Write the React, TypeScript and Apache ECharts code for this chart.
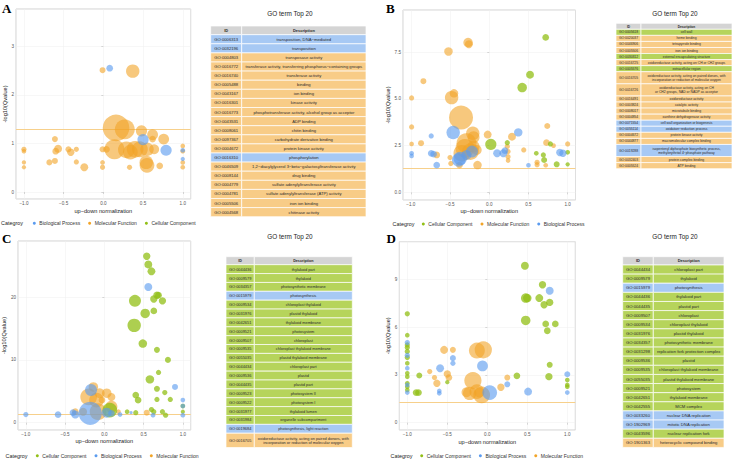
import { useEffect, useRef } from "react";
import * as echarts from "echarts";

// [up-down normalization, -log10(Qvalue), gene count]
type Pt = [number, number, number];

const BP = "Biological Process";
const MF = "Molecular Function";
const CC = "Cellular Component";
const Q_CUTOFF = -Math.log10(0.05);

// ---------- Panel A ----------
const aBiological: Pt[] = [
  [0.08, 2.55, 5], [0.5, 1.08, 14], [0.79, 0.86, 14], [1.0, 0.86, 2.4], [1.0, 0.68, 2],
];
const aMolecular: Pt[] = [
  [-0.01, 2.51, 4], [0.37, 2.49, 20], [0.16, 1.32, 79], [0.27, 1.29, 44], [0.48, 1.26, 14],
  [0.62, 1.18, 13], [0.62, 1.09, 5], [0.76, 1.09, 13], [-0.61, 1.09, 4], [-1.0, 0.88, 3],
  [-1.0, 0.84, 2.4], [-0.6, 0.84, 5], [-0.57, 0.89, 7], [-0.44, 0.88, 4], [-0.41, 0.82, 6],
  [-0.34, 0.88, 3], [-1.0, 0.61, 2], [-1.0, 0.51, 2], [-0.68, 0.61, 4], [-0.61, 0.64, 4],
  [-0.34, 0.62, 3], [-0.24, 0.51, 7], [-0.01, 0.61, 2.4], [-0.01, 0.51, 3], [-0.01, 0.88, 4],
  [0.04, 0.88, 5], [0.14, 0.88, 44], [0.29, 0.87, 31], [0.4, 0.88, 31], [0.46, 0.88, 28],
  [0.55, 0.88, 20], [0.64, 0.88, 11], [0.34, 0.82, 24], [0.54, 0.61, 20], [0.55, 0.55, 24],
  [0.33, 0.51, 3], [0.71, 0.54, 5], [1.0, 0.95, 2.4], [1.0, 0.84, 2.4], [1.0, 0.61, 2.4],
  [1.0, 0.51, 2.4],
];
const aCellular: Pt[] = [];

// ---------- Panel B ----------
const bCellular: Pt[] = [
  [0.72, 8.29, 5], [0.52, 6.3, 7], [0.42, 5.61, 10], [0.02, 2.57, 14], [0.23, 2.66, 3],
  [0.78, 2.59, 3], [0.6, 2.09, 2.4], [0.69, 2.0, 3], [0.7, 1.73, 4], [0.86, 1.5, 4],
  [1.0, 2.14, 2.4], [1.0, 1.5, 2],
];
const bMolecular: Pt[] = [
  [-0.27, 8.02, 10], [-0.26, 7.93, 7], [-0.52, 7.54, 8], [-0.84, 5.95, 4], [-0.45, 5.3, 8],
  [-0.48, 5.07, 20], [-0.99, 5.05, 3], [-0.36, 4.0, 64], [-0.99, 3.5, 3], [0.74, 3.55, 4],
  [-0.21, 3.16, 20], [-0.2, 2.95, 16], [-0.02, 3.09, 7], [0.29, 2.98, 7], [-0.87, 2.63, 4],
  [-0.99, 2.59, 2.4], [-0.29, 2.63, 44], [-0.31, 2.36, 39], [-0.35, 2.09, 31], [-0.24, 2.18, 31],
  [-0.2, 2.45, 16], [-0.16, 2.27, 11], [0.23, 2.45, 3], [0.24, 2.18, 3], [0.24, 1.91, 3],
  [0.24, 1.7, 2.4], [0.44, 2.27, 3], [0.73, 2.66, 5], [0.82, 2.5, 2.4], [1.0, 2.59, 3],
  [-0.67, 2.0, 5], [-0.5, 1.86, 3], [-0.49, 1.55, 3], [-0.38, 1.46, 5], [-0.15, 1.46, 8],
  [0.61, 1.61, 3], [0.61, 1.48, 3], [0.72, 1.45, 2.4],
];
const bBiological: Pt[] = [
  [-0.46, 3.2, 20], [-0.74, 3.02, 3], [0.37, 3.21, 8], [-0.99, 2.09, 2.4], [-0.99, 1.95, 2.4],
  [-0.74, 2.09, 5], [-0.71, 2.05, 5], [-0.67, 1.46, 5], [-0.39, 1.73, 20], [-0.37, 1.82, 20],
  [-0.29, 2.0, 11], [-0.22, 2.18, 16], [0.1, 2.09, 7], [0.18, 2.09, 7], [0.2, 2.23, 5],
  [0.5, 1.45, 2.4], [0.9, 2.13, 6], [0.94, 2.09, 6],
];

// ---------- Panel C ----------
const cCellular: Pt[] = [
  [0.54, 26.5, 6], [0.56, 25.2, 7], [0.6, 24.1, 7], [0.67, 20.3, 6], [0.69, 20.3, 5],
  [0.63, 19.7, 6], [0.74, 19.4, 6], [0.39, 19.4, 16], [0.52, 17.4, 10], [0.63, 17.8, 5],
  [0.38, 15.5, 20], [0.49, 12.6, 8], [0.67, 11.6, 4], [0.81, 10.0, 4], [0.69, 8.0, 3],
  [0.58, 6.9, 8], [0.67, 5.4, 4], [0.77, 4.8, 3], [0.4, 4.4, 5], [0.43, 3.6, 5],
  [0.67, 3.7, 3], [0.84, 3.7, 3], [1.0, 2.65, 2.4], [1.0, 1.75, 2], [0.6, 2.1, 3],
  [0.63, 1.75, 3], [0.74, 1.75, 3], [0.78, 1.2, 3], [0.29, 1.75, 2.4], [0.4, 1.6, 3],
  [0.07, 2.0, 24],
];
const cBiological: Pt[] = [
  [0.56, 21.6, 7], [0.9, 5.7, 4], [1.0, 3.6, 2.4], [1.0, 2.65, 2.4], [1.0, 1.2, 2.4],
  [0.34, 1.6, 1.2], [0.62, 1.2, 2.4], [-0.17, 5.2, 16], [-0.18, 1.5, 60], [0.03, 1.6, 11],
  [0.09, 1.5, 5], [-0.37, 1.3, 7], [-0.4, 1.6, 5], [-0.59, 1.3, 5], [-1.0, 1.3, 3],
  [0.2, 1.3, 2.4],
];
const cMolecular: Pt[] = [
  [0.54, 1.6, 4], [0.09, 2.55, 16], [0.09, 4.1, 7], [0.03, 4.7, 10], [-0.03, 3.6, 5],
  [-0.14, 5.7, 10], [-0.2, 4.1, 31], [-0.1, 3.6, 24], [-0.06, 4.7, 11], [-0.08, 1.75, 31],
  [-0.27, 1.75, 7], [-0.37, 1.75, 5], [0.18, 1.75, 2.4],
];

// ---------- Panel D ----------
const dCellular: Pt[] = [
  [0.47, 9.85, 7], [0.69, 8.66, 6], [0.48, 7.82, 10], [0.5, 7.82, 8], [0.65, 7.82, 7],
  [0.71, 7.4, 6], [0.78, 7.55, 6], [0.48, 6.42, 10], [0.73, 6.2, 5], [0.85, 6.2, 5],
  [0.75, 5.77, 5], [0.78, 3.63, 4], [0.77, 2.89, 6], [1.0, 2.68, 2.4], [1.0, 2.37, 2.4],
  [1.0, 2.26, 2.4], [0.37, 2.94, 5], [-0.85, 2.96, 4], [-0.5, 2.54, 2], [-0.89, 1.89, 5],
  [-0.86, 1.89, 5], [-1.0, 6.83, 3], [-1.0, 5.49, 2.4], [-1.0, 4.88, 3], [-1.0, 4.72, 3],
  [-1.0, 4.47, 3], [-1.0, 4.09, 3], [-1.0, 3.73, 2.4], [-1.0, 3.1, 2.4], [-1.0, 2.89, 2.4],
  [-1.0, 2.47, 2.4], [-1.0, 2.26, 2.4], [-1.0, 2.05, 2.4],
];
const dBiological: Pt[] = [
  [0.78, 8.28, 7], [1.0, 3.04, 4], [1.0, 1.89, 2.4], [0.25, 2.41, 4], [0.51, 1.95, 7],
  [-0.43, 4.05, 4], [-0.43, 3.73, 3], [-0.06, 3.56, 13], [-0.59, 3.42, 7], [0.03, 1.89, 24],
  [-0.6, 1.99, 2.4], [-0.6, 1.84, 2.4], [-1.0, 5.03, 3], [-1.0, 4.23, 3], [-1.0, 3.42, 2.4],
  [-1.0, 2.37, 2.4], [-1.0, 1.89, 2.4],
];
const dMolecular: Pt[] = [
  [0.25, 2.83, 4], [0.17, 2.22, 6], [-0.05, 4.57, 33], [-0.13, 4.53, 28], [-0.54, 4.57, 7],
  [-0.43, 4.57, 4], [-0.72, 3.21, 3], [-0.5, 3.06, 6], [-0.48, 2.83, 5], [-0.66, 2.83, 3],
  [-0.63, 2.47, 6], [-0.18, 2.64, 33], [-0.22, 1.84, 20], [-0.13, 1.95, 24], [-0.07, 1.74, 31],
  [-0.26, 1.91, 11], [-0.1, 1.89, 11],
];

// ---------- GO term tables ----------
const tableAIds = [
  "GO:0006313", "GO:0032196", "GO:0004803", "GO:0016772", "GO:0016740", "GO:0005488", "GO:0043167",
  "GO:0016301", "GO:0016773", "GO:0043531", "GO:0008061", "GO:0097367", "GO:0004672", "GO:0016310",
  "GO:0046509", "GO:0008144", "GO:0004779", "GO:0004781", "GO:0005506", "GO:0004568",
];
const tableADesc = [
  "transposition, DNA−mediated", "transposition", "transposase activity",
  "transferase activity, transferring phosphorus−containing groups", "transferase activity", "binding",
  "ion binding", "kinase activity", "phosphotransferase activity, alcohol group as acceptor", "ADP binding",
  "chitin binding", "carbohydrate derivative binding", "protein kinase activity", "phosphorylation",
  "1,2−diacylglycerol 3−beta−galactosyltransferase activity", "drug binding",
  "sulfate adenylyltransferase activity", "sulfate adenylyltransferase (ATP) activity", "iron ion binding",
  "chitinase activity",
];
const tableACat = [BP, BP, MF, MF, MF, MF, MF, MF, MF, MF, MF, MF, MF, BP, MF, MF, MF, MF, MF, MF];

const tableBIds = [
  "GO:0005618", "GO:0020037", "GO:0046906", "GO:0005506", "GO:0030312", "GO:0016725", "GO:0005576",
  "GO:0016705", "GO:0016726", "GO:0016491", "GO:0003824", "GO:0008017", "GO:0004854", "GO:0071554",
  "GO:0055114", "GO:0004672", "GO:0044877", "GO:0019288", "GO:0032403", "GO:0005524",
];
const tableBDesc = [
  "cell wall", "heme binding", "tetrapyrrole binding", "iron ion binding", "external encapsulating structure",
  "oxidoreductase activity, acting on CH or CH2 groups", "extracellular region",
  "oxidoreductase activity, acting on paired donors, with\nincorporation or reduction of molecular oxygen",
  "oxidoreductase activity, acting on CH\nor CH2 groups, NAD or NADP as acceptor",
  "oxidoreductase activity", "catalytic activity", "microtubule binding", "xanthine dehydrogenase activity",
  "cell wall organization or biogenesis", "oxidation−reduction process", "protein kinase activity",
  "macromolecular complex binding",
  "isopentenyl diphosphate biosynthetic process,\nmethylerythritol 4−phosphate pathway",
  "protein complex binding", "ATP binding",
];
const tableBCat = [CC, MF, MF, MF, CC, MF, CC, MF, MF, MF, MF, MF, MF, BP, BP, MF, MF, BP, MF, MF];

const tableCIds = [
  "GO:0044436", "GO:0009579", "GO:0034357", "GO:0015979", "GO:0009534", "GO:0031976", "GO:0042651",
  "GO:0009521", "GO:0009507", "GO:0009535", "GO:0055035", "GO:0044434", "GO:0009536", "GO:0044435",
  "GO:0009523", "GO:0009522", "GO:0031977", "GO:0031984", "GO:0019684", "GO:0016705",
];
const tableCDesc = [
  "thylakoid part", "thylakoid", "photosynthetic membrane", "photosynthesis", "chloroplast thylakoid",
  "plastid thylakoid", "thylakoid membrane", "photosystem", "chloroplast", "chloroplast thylakoid membrane",
  "plastid thylakoid membrane", "chloroplast part", "plastid", "plastid part", "photosystem II",
  "photosystem I", "thylakoid lumen", "organelle subcompartment", "photosynthesis, light reaction",
  "oxidoreductase activity, acting on paired donors, with\nincorporation or reduction of molecular oxygen",
];
const tableCCat = [CC, CC, CC, BP, CC, CC, CC, CC, CC, CC, CC, CC, CC, CC, CC, CC, CC, CC, BP, MF];

const tableDIds = [
  "GO:0044434", "GO:0009579", "GO:0015979", "GO:0044436", "GO:0044435", "GO:0009507", "GO:0009534",
  "GO:0031976", "GO:0034357", "GO:0031298", "GO:0009536", "GO:0009535", "GO:0055035", "GO:0009521",
  "GO:0042651", "GO:0042555", "GO:0033260", "GO:1902969", "GO:0043596", "GO:1901363",
];
const tableDDesc = [
  "chloroplast part", "thylakoid", "photosynthesis", "thylakoid part", "plastid part", "chloroplast",
  "chloroplast thylakoid", "plastid thylakoid", "photosynthetic membrane", "replication fork protection complex",
  "plastid", "chloroplast thylakoid membrane", "plastid thylakoid membrane", "photosystem",
  "thylakoid membrane", "MCM complex", "nuclear DNA replication", "mitotic DNA replication",
  "nuclear replication fork", "heterocyclic compound binding",
];
const tableDCat = [CC, CC, BP, CC, CC, CC, CC, CC, CC, CC, CC, CC, CC, CC, CC, CC, BP, BP, CC, MF];

// ---------- styling ----------
const SANS = "'Liberation Sans', Arial, Helvetica, sans-serif";
const SERIF = "'Liberation Serif', 'Times New Roman', serif";

const pointColor: Record<string, string> = { [BP]: "#5a9bef", [MF]: "#f2a427", [CC]: "#92bf16" };
const pointOpacity: Record<string, number> = { [BP]: 0.62, [MF]: 0.6, [CC]: 0.75 };
const cellColor: Record<string, string> = { [BP]: "#a7c9f4", [MF]: "#f8cc87", [CC]: "#b6d45b" };

type TableLayout = {
  x: number; y: number; width: number; idW: number; headH: number; rowH: number;
  extraLineH: number; fontSize: number; titleX: number; titleY: number;
};

type Panel = {
  letter: string;
  letterX: number; letterY: number;
  series: [string, Pt[]][];
  legendOrder: string[];
  grid: { left: number; top: number; width: number; height: number };
  yMin: number; yMax: number; yStep: number; yDigits: number; yNameGap: number; xNameGap: number;
  legendLeft: number; legendTop: number; categoryX: number; categoryY: number;
  ids: string[]; desc: string[]; cats: string[]; table: TableLayout;
};

const panels: Panel[] = [
  {
    letter: "A", letterX: 2, letterY: 2,
    series: [[MF, aMolecular], [CC, aCellular], [BP, aBiological]],
    legendOrder: [BP, MF, CC],
    grid: { left: 16, top: 9, width: 174.7, height: 190 },
    yMin: -0.144, yMax: 3.77, yStep: 1, yDigits: 0, yNameGap: 8, xNameGap: 8.5,
    legendLeft: 32.8, legendTop: 220.8, categoryX: 1, categoryY: 223.3,
    ids: tableAIds, desc: tableADesc, cats: tableACat,
    table: { x: 210.7, y: 26, width: 155.3, idW: 31, headH: 8.7, rowH: 9.1, extraLineH: 4.5, fontSize: 4.2, titleX: 290, titleY: 13 },
  },
  {
    letter: "B", letterX: 386, letterY: 2,
    series: [[MF, bMolecular], [CC, bCellular], [BP, bBiological]],
    legendOrder: [CC, MF, BP],
    grid: { left: 403, top: 10, width: 172.5, height: 190 },
    yMin: -0.41, yMax: 9.76, yStep: 2.5, yDigits: 1, yNameGap: 12, xNameGap: 8,
    legendLeft: 421.8, legendTop: 221.5, categoryX: 392.5, categoryY: 224,
    ids: tableBIds, desc: tableBDesc, cats: tableBCat,
    table: { x: 616, y: 23.3, width: 116, idW: 25, headH: 6, rowH: 6.06, extraLineH: 6.06, fontSize: 3.35, titleX: 675, titleY: 13 },
  },
  {
    letter: "C", letterX: 2, letterY: 232,
    series: [[MF, cMolecular], [CC, cCellular], [BP, cBiological]],
    legendOrder: [CC, BP, MF],
    grid: { left: 18, top: 241, width: 172.7, height: 189 },
    yMin: -1.16, yMax: 28.93, yStep: 10, yDigits: 0, yNameGap: 9, xNameGap: 8,
    legendLeft: 35.8, legendTop: 453.3, categoryX: 5.5, categoryY: 455.8,
    ids: tableCIds, desc: tableCDesc, cats: tableCCat,
    table: { x: 226, y: 256.7, width: 126.3, idW: 28.3, headH: 8, rowH: 8.87, extraLineH: 5.43, fontSize: 3.9, titleX: 290, titleY: 236.5 },
  },
  {
    letter: "D", letterX: 386.5, letterY: 232,
    series: [[MF, dMolecular], [CC, dCellular], [BP, dBiological]],
    legendOrder: [CC, BP, MF],
    grid: { left: 399.3, top: 241.7, width: 176, height: 188.3 },
    yMin: -0.46, yMax: 11.36, yStep: 3, yDigits: 0, yNameGap: 5.5, xNameGap: 8.5,
    legendLeft: 420.2, legendTop: 453.2, categoryX: 390.5, categoryY: 455.7,
    ids: tableDIds, desc: tableDDesc, cats: tableDCat,
    table: { x: 622.7, y: 256.7, width: 101.3, idW: 30.6, headH: 8.3, rowH: 9.12, extraLineH: 4.6, fontSize: 4.2, titleX: 675, titleY: 236.5 },
  },
];

const fmt = (digits: number) => (v: number) =>
  (v < 0 ? "−" : "") + Math.abs(v).toFixed(digits);

function tableElements(p: Panel): any[] {
  const t = p.table;
  const els: any[] = [];
  const txt = (x: number, y: number, text: string, size: number, bold = false) => ({
    type: "text", x, y, silent: true,
    style: {
      text, fontSize: size, fontFamily: SANS, fontWeight: bold ? "bold" : "normal",
      fill: "#2b2b2b", align: "center", verticalAlign: "middle", lineHeight: size * 1.2,
    },
  });
  const cell = (x: number, y: number, w: number, h: number, fill: string) => ({
    type: "rect", silent: true, shape: { x, y, width: w, height: h },
    style: { fill, stroke: "#ffffff", lineWidth: 0.7 },
  });
  els.push({
    type: "text", x: t.titleX, y: t.titleY, silent: true,
    style: { text: "GO term Top 20", fontSize: 6.4, fontFamily: SANS, fill: "#222", align: "center", verticalAlign: "middle" },
  });
  const descW = t.width - t.idW;
  els.push(cell(t.x, t.y, t.idW, t.headH, "#d4d4d4"));
  els.push(cell(t.x + t.idW, t.y, descW, t.headH, "#d4d4d4"));
  els.push(txt(t.x + t.idW / 2, t.y + t.headH / 2, "ID", t.fontSize * 0.95, true));
  els.push(txt(t.x + t.idW + descW / 2, t.y + t.headH / 2, "Description", t.fontSize * 0.95, true));
  let y = t.y + t.headH;
  p.ids.forEach((id, i) => {
    const lines = p.desc[i].split("\n").length;
    const h = t.rowH + (lines - 1) * t.extraLineH;
    const fill = cellColor[p.cats[i]];
    els.push(cell(t.x, y, t.idW, h, fill));
    els.push(cell(t.x + t.idW, y, descW, h, fill));
    els.push(txt(t.x + t.idW / 2, y + h / 2, id, t.fontSize));
    els.push(txt(t.x + t.idW + descW / 2, y + h / 2, p.desc[i], t.fontSize));
    y += h;
  });
  return els;
}

function buildOption(): any {
  const grid: any[] = [];
  const xAxis: any[] = [];
  const yAxis: any[] = [];
  const series: any[] = [];
  const legend: any[] = [];
  const graphic: any[] = [];

  panels.forEach((p, i) => {
    grid.push({ ...p.grid, show: true, borderColor: "#c4c4c4", borderWidth: 0.8, backgroundColor: "#ffffff" });
    const common = {
      gridIndex: i, type: "value",
      axisLine: { show: false },
      axisTick: { show: true, length: 2, lineStyle: { color: "#b0b0b0", width: 0.5 } },
      splitLine: { show: true, lineStyle: { color: "#efefef", width: 0.5 } },
      nameLocation: "middle",
      nameTextStyle: { fontSize: 5.6, color: "#222", fontFamily: SANS },
    };
    xAxis.push({
      ...common, min: -1.1, max: 1.1, minInterval: 0.5, maxInterval: 0.5,
      name: "up−down normalization", nameGap: p.xNameGap,
      axisLabel: {
        fontSize: 4.6, color: "#555", margin: 2, fontFamily: SANS,
        showMinLabel: false, showMaxLabel: false, formatter: fmt(1),
      },
    });
    yAxis.push({
      ...common, min: p.yMin, max: p.yMax, minInterval: p.yStep, maxInterval: p.yStep,
      name: "-log10(Qvalue)", nameGap: p.yNameGap,
      axisLabel: {
        fontSize: 4.6, color: "#555", margin: 2, fontFamily: SANS,
        showMinLabel: false, showMaxLabel: false, formatter: fmt(p.yDigits),
      },
    });
    p.series.forEach(([name, data], k) => {
      const s: any = {
        type: "scatter", name, xAxisIndex: i, yAxisIndex: i, data,
        symbolSize: (v: number[]) => 3 * Math.sqrt(v[2]),
        itemStyle: { color: pointColor[name], opacity: pointOpacity[name] },
        emphasis: { disabled: true },
        z: 2 + k,
      };
      if (k === 0) {
        s.markLine = {
          silent: true, symbol: ["none", "none"], label: { show: false },
          lineStyle: { color: "#f7d08b", width: 1, type: "solid", opacity: 1 },
          data: [{ yAxis: Q_CUTOFF }],
          z: 1,
        };
      }
      series.push(s);
    });
    legend.push({
      left: p.legendLeft, top: p.legendTop, padding: 0, orient: "horizontal",
      data: p.legendOrder, icon: "circle", itemWidth: 3, itemHeight: 3, itemGap: 8,
      selectedMode: false,
      itemStyle: { opacity: 1 },
      textStyle: { fontSize: 5, color: "#333", fontFamily: SANS, padding: [0, 0, 0, -1.5] },
    });
    graphic.push({
      type: "text", x: p.categoryX, y: p.categoryY, silent: true,
      style: { text: "Categroy", fontSize: 5.4, fontFamily: SANS, fill: "#222", align: "left", verticalAlign: "middle" },
    });
    graphic.push({
      type: "text", x: p.letterX, y: p.letterY, silent: true,
      style: { text: p.letter, fontSize: 13, fontFamily: SERIF, fontWeight: "bold", fill: "#000", align: "left", verticalAlign: "top" },
    });
    graphic.push(...tableElements(p));
  });

  return {
    animation: false,
    backgroundColor: "#ffffff",
    textStyle: { fontFamily: SANS },
    tooltip: { show: false },
    grid, xAxis, yAxis, series, legend,
    graphic: { elements: graphic },
  };
}

export default function App() {
  const ref = useRef<HTMLDivElement>(null);
  useEffect(() => {
    if (!ref.current) return;
    // the page keeps the browser's default body margin; the figure sits flush at the top-left
    const prevMargin = document.body.style.margin;
    document.body.style.margin = "0";
    const chart = echarts.init(ref.current, undefined, { renderer: "svg" });
    chart.setOption(buildOption());
    return () => {
      chart.dispose();
      document.body.style.margin = prevMargin;
    };
  }, []);
  return <div ref={ref} style={{ width: 733, height: 460, background: "#fff" }} />;
}
